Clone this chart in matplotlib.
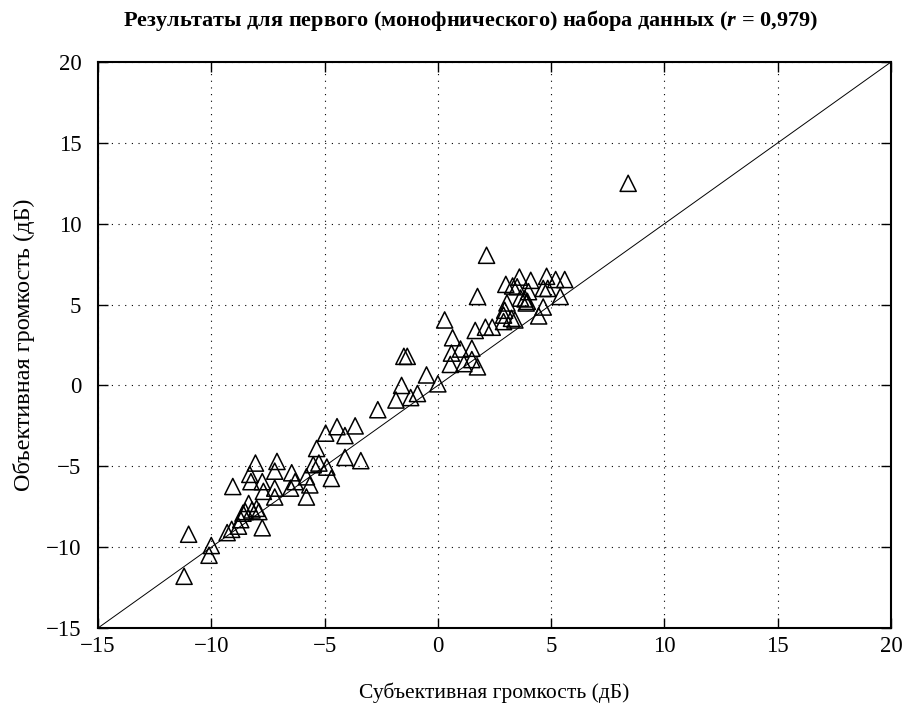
import matplotlib
matplotlib.use('Agg')
import matplotlib.pyplot as plt

plt.rcParams['font.family'] = ['Liberation Serif', 'DejaVu Serif']
plt.rcParams['mathtext.fontset'] = 'custom'
plt.rcParams['mathtext.it'] = 'Liberation Serif:bold:italic'
plt.rcParams['mathtext.rm'] = 'Liberation Serif:bold'

# субъективная / объективная громкость (дБ)
subj = [-11.2, -11.0, -10.1, -10.0, -9.3, -9.1, -8.8, -8.7, -8.6, -8.5,
        -8.35, -8.2, -8.0, -7.9, -7.75, -9.05, -8.3, -8.25, -8.05, -7.75,
        -7.7, -7.2, -7.2, -7.2, -7.1, -6.45, -6.5, -6.3, -5.8, -5.8,
        -5.65, -5.5, -5.35, -5.25, -4.95, -4.9, -4.7, -4.45, -4.1, -4.1,
        -3.65, -3.4, -2.65, -1.85, -1.6, -1.2, -0.9, -0.5, 0.0, -1.5,
        -1.35, 0.3, 0.65, 0.6, 1.0, 0.55, 1.15, 1.5, 1.5, 1.75,
        1.65, 2.1, 2.4, 2.15, 1.75, 2.9, 2.9, 2.95, 3.05, 3.25,
        3.4, 3.0, 3.3, 3.6, 3.5, 3.65, 3.85, 3.9, 4.0, 4.1,
        3.95, 4.45, 4.65, 4.65, 4.8, 5.2, 5.4, 5.6, 4.85, 8.4]
obj = [-11.8, -9.2, -10.5, -9.9, -9.1, -8.9, -8.7, -8.3, -7.9, -7.8,
       -7.3, -7.7, -7.6, -7.8, -8.8, -6.25, -5.5, -5.95, -4.8, -5.95,
       -6.55, -6.35, -6.9, -5.3, -4.7, -5.4, -6.35, -5.95, -5.65, -6.9,
       -6.15, -4.9, -3.9, -4.8, -2.95, -5.05, -5.75, -2.55, -3.1, -4.45,
       -2.5, -4.65, -1.5, -0.9, 0.0, -0.75, -0.5, 0.65, 0.1, 1.8,
       1.8, 4.05, 2.95, 2.0, 2.25, 1.3, 1.35, 2.3, 1.6, 1.15,
       3.4, 3.6, 3.6, 8.05, 5.5, 3.95, 4.35, 4.65, 5.1, 4.15,
       4.05, 6.25, 6.15, 6.7, 6.1, 5.4, 5.35, 5.1, 5.8, 6.5,
       5.2, 4.3, 4.85, 6.0, 6.75, 6.55, 5.5, 6.55, 6.0, 12.5]

lims = [-15, 20]
ticks = [-15, -10, -5, 0, 5, 10, 15, 20]

fig = plt.figure(figsize=(9.04, 7.05), dpi=100)
ax = fig.add_axes([0.1084, 0.1092, 0.8772, 0.8028])

ax.plot(lims, lims, color='black', lw=0.7, zorder=2)
ax.scatter(subj, obj, marker='^', s=135, facecolors='none',
           edgecolors='black', linewidths=1.1, zorder=3)

ax.set_xlim(lims)
ax.set_ylim(lims)
ax.set_xticks(ticks)
ax.set_yticks(ticks)
ax.grid(True, color='black', linestyle=(0, (1, 5)), linewidth=0.8)
ax.tick_params(direction='in', length=7, width=1, top=True, right=True,
               labelsize=16.5)
ax.tick_params(axis='x', pad=6)
ax.tick_params(axis='y', pad=12)
for sp in ax.spines.values():
    sp.set_linewidth(1.5)

ax.set_xlabel('Субъективная громкость (дБ)', fontsize=15.5, labelpad=18)
ax.set_ylabel('Объективная громкость (дБ)', fontsize=17.5, labelpad=8)
fig.text(0.52, 0.971, 'Результаты для первого (монофнического) набора данных ($r$ = 0,979)',
         ha='center', va='center', fontsize=16, fontweight='bold')

fig.savefig('out.png', dpi=100)
